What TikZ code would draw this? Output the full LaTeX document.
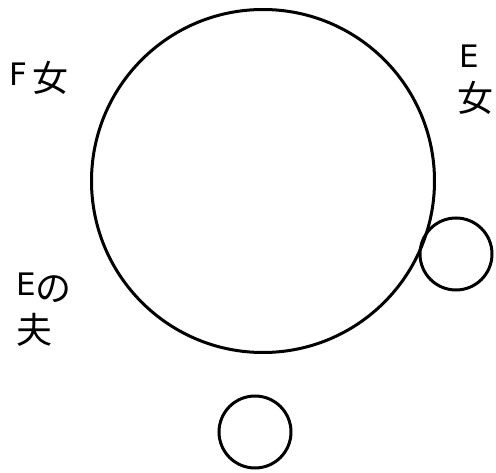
\documentclass[tikz,border=0pt]{standalone}
\usepackage{fontspec}
\setmainfont{DejaVu Sans}
\newfontfamily\cjkfont{Noto Sans CJK JP}
\newcommand{\cj}[1]{\raisebox{-5.5pt}[26pt][6pt]{\cjkfont\fontsize{36}{40}\selectfont #1}}
\begin{document}
\begin{tikzpicture}[x=1pt,y=-1pt,
  ring/.style={circle,draw,line width=3pt,inner sep=0pt},
  lbl/.style={inner sep=0pt,font=\fontsize{31}{40}\selectfont,anchor=base west}]
\useasboundingbox (0,0) rectangle (496,473);
\node[ring,minimum size=343pt] (big) at (263,181) {};
\node[ring,minimum size=72pt] (sr) at (456,254) {};
\node[ring,minimum size=72pt] (sb) at (255,432) {};
\node[lbl] (f) at (9,86) {F\kern5pt\cj{女}};
\node[lbl] (e1) at (459,68) {E};
\node[lbl] (e2) at (457.5,105.7) {\cj{女}};
\node[lbl] (h1) at (16,296) {E\cj{の}};
\node[lbl] (h2) at (16,337.7) {\cj{夫}};
\end{tikzpicture}
\end{document}
